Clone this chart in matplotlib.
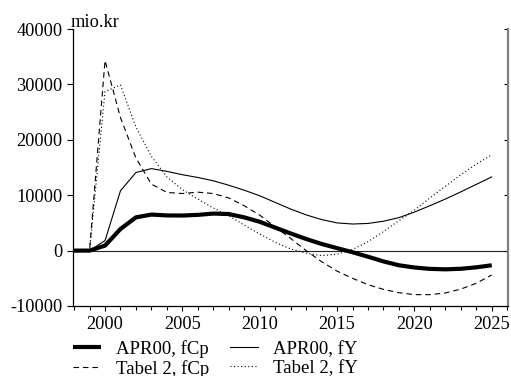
import matplotlib
matplotlib.use('Agg')
import matplotlib.pyplot as plt
from matplotlib.ticker import MultipleLocator

years = list(range(1998, 2026))
apr00_fcp = [0, 0, 900, 3900, 6000, 6500, 6350, 6330, 6450, 6680, 6600, 6000, 5200, 4150,
             3100, 2100, 1200, 450, -300, -1100, -1950, -2650, -3050, -3300, -3380, -3280,
             -3020, -2650]
apr00_fy = [0, 0, 1800, 10800, 14100, 14800, 14300, 13700, 13200, 12600, 11800, 10900, 9900,
            8700, 7500, 6450, 5600, 5000, 4800, 4900, 5300, 5950, 6950, 8100, 9300, 10600,
            11950, 13300]
tabel2_fcp = [0, 0, 34300, 24000, 16700, 12000, 10500, 10300, 10550, 10300, 9500, 8100, 6400,
              4300, 2200, 0, -2000, -3700, -5000, -6150, -7000, -7600, -7950, -7950, -7650,
              -6950, -5900, -4400]
tabel2_fy = [0, 0, 28700, 29900, 22300, 17000, 13300, 11000, 9300, 7700, 6300, 4600, 3000,
             1500, 300, -450, -900, -650, 200, 1600, 3450, 5400, 7300, 9500, 11600, 13700,
             15600, 17300]

labels = ['APR00, fCp', 'APR00, fY', 'Tabel 2, fCp', 'Tabel 2, fY']
yticks = [-10000, 0, 10000, 20000, 30000, 40000]
xticks = [2000, 2005, 2010, 2015, 2020, 2025]
unit_label = 'mio.kr'

plt.rcParams['font.family'] = ['Liberation Serif', 'DejaVu Serif']
FS = 13.2
LFS = 13.5

W, H = 511, 376
fig = plt.figure(figsize=(W / 100, H / 100), dpi=100)
ax = fig.add_axes([73 / W, 1 - 306 / H, (507.5 - 73) / W, (306 - 29) / H])

l1, = ax.plot(years, apr00_fcp, color='black', lw=3.0, solid_capstyle='butt')
l2, = ax.plot(years, apr00_fy, color='black', lw=0.8)
l3, = ax.plot(years, tabel2_fcp, color='black', lw=0.8, linestyle=(0, (5, 3.5)))
l4, = ax.plot(years, tabel2_fy, color='black', lw=0.8, linestyle=(0, (1, 2.2)))
ax.axhline(0, color='#222222', lw=0.8, zorder=0)

ax.set_xlim(1997.93, 2026.02)
ax.set_ylim(-10000, 40000)
ax.set_yticks(yticks)
ax.set_yticklabels([str(v) for v in yticks])
ax.set_xticks(xticks)
ax.set_xticklabels([str(v) for v in xticks])
ax.xaxis.set_minor_locator(MultipleLocator(1))

ax.spines['top'].set_visible(False)
ax.spines['right'].set_visible(False)
for s in ('left', 'bottom'):
    ax.spines[s].set_linewidth(0.9)
    ax.spines[s].set_color('black')

ax.tick_params(axis='y', direction='out', length=4, width=0.8, pad=3.5, labelsize=FS, right=False)
ax.tick_params(axis='x', which='major', direction='out', length=3.5, width=0.8, pad=4, labelsize=FS)
ax.tick_params(axis='x', which='minor', direction='out', length=3, width=0.8)

sec = ax.secondary_yaxis('right')
sec.set_yticks(yticks)
sec.tick_params(direction='in', length=3, width=0.8, labelright=False)
sec.spines['right'].set_color('#808080')
sec.spines['right'].set_linewidth(1.6)

fig.text(71 / W, 1 - 27 / H, unit_label, fontsize=FS, ha='left', va='baseline')

fig.legend([l1, l3, l2, l4], [labels[0], labels[2], labels[1], labels[3]],
           loc='upper left', bbox_to_anchor=(73 / W, 1 - 340 / H), ncol=2,
           frameon=False, fontsize=LFS, borderpad=0, borderaxespad=0,
           handlelength=1.5, handletextpad=0.8, columnspacing=1.09, labelspacing=0.1)

fig.savefig('out.png', dpi=100)
